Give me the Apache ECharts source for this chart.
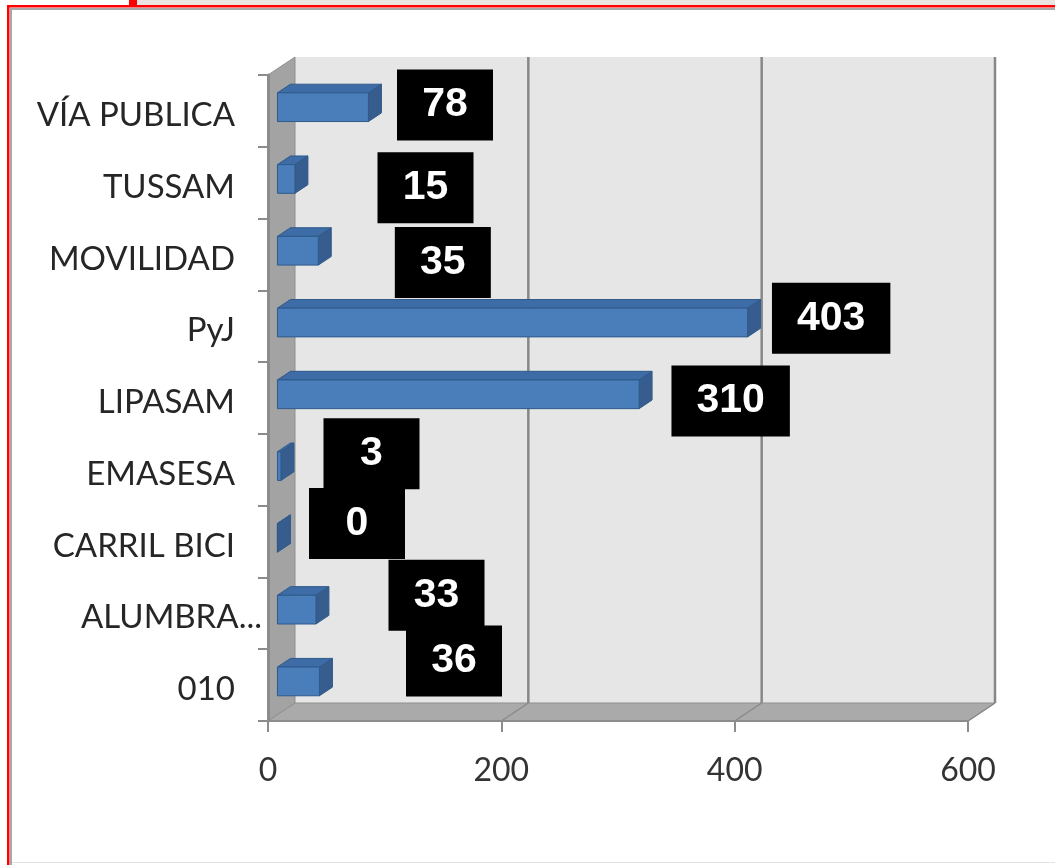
<!DOCTYPE html>
<html><head><meta charset="utf-8">
<script src="https://cdn.jsdelivr.net/npm/echarts@6/dist/echarts.min.js"></script>
<style>html,body{margin:0;padding:0;background:#fff;}#c{width:1055px;height:865px;}</style>
</head><body><div id="c"></div>
<script>
// ---- data ----
const categories = ['VÍA PUBLICA', 'TUSSAM', 'MOVILIDAD', 'PyJ', 'LIPASAM', 'EMASESA', 'CARRIL BICI', 'ALUMBRA...', '010'];
const values = [78, 15, 35, 403, 310, 3, 0, 33, 36];
const xTicks = [0, 200, 400, 600];

// ---- layout (pixel offsets of the hand-placed value boxes from bar end) ----
const labelShiftX = [86, 140, 134, 93, 101, 100, 89, 130, 144];
const labelShiftY = [-6, 5, 8, -8, 3, -16, -18, -18, -24];
const DX = 27, DY = -18; // 3D depth vector
const LABEL_FONT = 'bold 41px "Liberation Sans", Arial, sans-serif';

const measureCtx = document.createElement('canvas').getContext('2d');
measureCtx.font = LABEL_FONT;

const chart = echarts.init(document.getElementById('c'), null, {renderer: 'canvas'});

function renderWalls(params, api) {
  const cs = params.coordSys;
  const x0 = cs.x, x1 = cs.x + cs.width, y0 = cs.y, y1 = cs.y + cs.height;
  const ch = [];
  ch.push({type: 'rect', shape: {x: x0 + DX, y: y0 + DY, width: x1 - x0, height: y1 - y0}, style: {fill: '#e6e6e6'}});
  ch.push({type: 'polygon', shape: {points: [[x0, y0], [x0 + DX, y0 + DY], [x0 + DX, y1 + DY], [x0, y1]]}, style: {fill: '#a3a3a3', stroke: '#8f8f8f', lineWidth: 1}});
  ch.push({type: 'polygon', shape: {points: [[x0, y1], [x0 + DX, y1 + DY], [x1 + DX, y1 + DY], [x1, y1]]}, style: {fill: '#aaaaaa', stroke: '#8f8f8f', lineWidth: 1}});
  xTicks.slice(1).forEach(function (v) {
    const x = api.coord([v, 0])[0];
    ch.push({type: 'line', shape: {x1: x + DX, y1: y0 + DY, x2: x + DX, y2: y1 + DY}, style: {stroke: '#878787', lineWidth: 2.5}});
    ch.push({type: 'line', shape: {x1: x, y1: y1, x2: x + DX, y2: y1 + DY}, style: {stroke: '#8a8a8a', lineWidth: 1.5}});
  });
  return {type: 'group', children: ch};
}

function renderBar(params, api) {
  const i = params.dataIndex;
  const v = api.value(0), c = api.value(1);
  const p0 = api.coord([0, c]), p1 = api.coord([v, c]);
  const band = api.size([0, 1])[1];
  const h = band * 0.40;
  const fx = 0.35 * DX, fy = 0.35 * DY;
  const cy = p0[1] + fy + 2.6;
  const xs = p0[0] + fx, xe = p1[0] + fx;
  const top = cy - h / 2, bot = cy + h / 2;
  const tx = 0.48 * DX, ty = 0.48 * DY;
  const edge = {stroke: '#2f5a8a', lineWidth: 1};
  const txt = String(v);
  const tw = measureCtx.measureText(txt).width;
  const padX = Math.max(25, (96 - tw) / 2);
  return {type: 'group', children: [
    {type: 'polygon', shape: {points: [[xs, top], [xs + tx, top + ty], [xe + tx, top + ty], [xe, top]]}, style: Object.assign({fill: '#3d6ca6'}, edge)},
    {type: 'polygon', shape: {points: [[xe, top], [xe + tx, top + ty], [xe + tx, bot + ty], [xe, bot]]}, style: Object.assign({fill: '#365d8e'}, edge)},
    {type: 'rect', shape: {x: xs, y: top, width: xe - xs, height: h}, style: Object.assign({fill: '#4a7ebb'}, edge)},
    {type: 'text', z2: 20, style: {
      text: txt, x: p1[0] + labelShiftX[i], y: p0[1] + labelShiftY[i],
      align: 'center', verticalAlign: 'middle', fill: '#ffffff',
      font: LABEL_FONT, lineHeight: 41,
      backgroundColor: '#000000', padding: [20, padX, 10, padX]
    }}
  ]};
}

const option = {
  backgroundColor: '#ffffff',
  animation: false,
  grid: {left: 268, top: 75, width: 700, height: 646, containLabel: false, outerBoundsMode: 'none'},
  xAxis: {
    type: 'value', min: 0, max: 600, interval: 200, z: 3,
    axisLine: {show: true, lineStyle: {color: '#8c8c8c', width: 2}},
    axisTick: {show: true, length: 11, lineStyle: {color: '#8c8c8c', width: 2}},
    axisLabel: {margin: 34, fontFamily: 'Lato', fontSize: 32, color: '#333333'},
    splitLine: {show: false}
  },
  yAxis: {
    type: 'category', data: categories, inverse: true, z: 3,
    axisLine: {show: true, lineStyle: {color: '#8c8c8c', width: 3}},
    axisTick: {show: true, length: 10, lineStyle: {color: '#8c8c8c', width: 2}},
    axisLabel: {
      margin: 6, fontFamily: 'Lato', fontSize: 32, color: '#262626',
      formatter: function (v) { return v.endsWith('...') ? '{b|' + v + '}' : '{a|' + v + '}'; },
      rich: {
        a: {fontFamily: 'Lato', fontSize: 33, color: '#262626', padding: [9, 27, 0, 0]},
        b: {fontFamily: 'Lato', fontSize: 33, color: '#262626', padding: [9, 0, 0, 0]}
      }
    }
  },
  graphic: [
    {type: 'rect', shape: {x: 137, y: 0, width: 918, height: 5}, style: {fill: '#e9e4df'}, z: 100},
    {type: 'rect', shape: {x: 129, y: 0, width: 8, height: 7}, style: {fill: '#ff0000'}, z: 101},
    {type: 'rect', shape: {x: 7, y: 5, width: 1048, height: 2.5}, style: {fill: '#ff0000'}, z: 101},
    {type: 'rect', shape: {x: 7, y: 5, width: 2.5, height: 860}, style: {fill: '#ff0000'}, z: 101},
    {type: 'rect', shape: {x: 10, y: 8, width: 1045, height: 2}, style: {fill: '#a8a8a8'}, z: 100},
    {type: 'rect', shape: {x: 10, y: 8, width: 2, height: 857}, style: {fill: '#a8a8a8'}, z: 100},
    {type: 'rect', shape: {x: 12, y: 862, width: 1043, height: 1}, style: {fill: '#e3e3e3'}, z: 100}
  ],
  series: [
    {type: 'custom', name: 'walls', z: 1, silent: true, data: [[0, 0]], renderItem: renderWalls},
    {type: 'custom', name: 'bars', z: 4, data: values.map(function (v, i) { return [v, i]; }), encode: {x: 0, y: 1}, renderItem: renderBar}
  ]
};
chart.setOption(option);
</script>
</body></html>
